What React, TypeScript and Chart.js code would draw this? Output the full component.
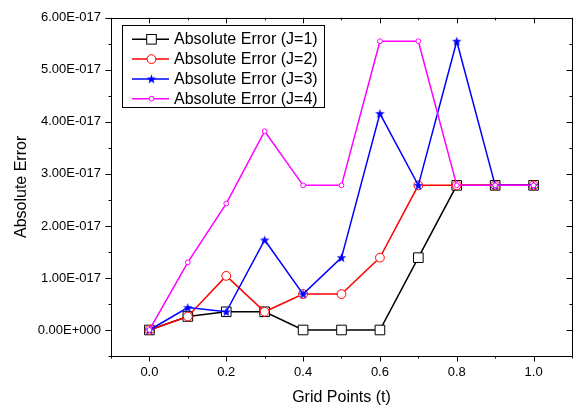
import React, { useEffect, useRef } from "react";
import { Chart, registerables } from "chart.js";
Chart.register(...registerables);

const gridPoints = [0, 0.1, 0.2, 0.3, 0.4, 0.5, 0.6, 0.7, 0.8, 0.9, 1.0];
const errorJ1 = [0, 0.26e-17, 0.35e-17, 0.35e-17, 0, 0, 0, 1.39e-17, 2.78e-17, 2.78e-17, 2.78e-17];
const errorJ2 = [0, 0.26e-17, 1.04e-17, 0.35e-17, 0.69e-17, 0.69e-17, 1.39e-17, 2.78e-17, 2.78e-17, 2.78e-17, 2.78e-17];
const errorJ3 = [0, 0.43e-17, 0.35e-17, 1.73e-17, 0.69e-17, 1.39e-17, 4.16e-17, 2.78e-17, 5.55e-17, 2.78e-17, 2.78e-17];
const errorJ4 = [0, 1.30e-17, 2.43e-17, 3.82e-17, 2.78e-17, 2.78e-17, 5.55e-17, 5.55e-17, 2.78e-17, 2.78e-17, 2.78e-17];
const seriesLabels = ["Absolute Error (J=1)", "Absolute Error (J=2)", "Absolute Error (J=3)", "Absolute Error (J=4)"];

const xTickValues = [0, 0.2, 0.4, 0.6, 0.8, 1.0];
const xTickLabels = ["0.0", "0.2", "0.4", "0.6", "0.8", "1.0"];
const xMinorValues = [-0.1, 0.1, 0.3, 0.5, 0.7, 0.9, 1.1];
const yTickValues = [0, 1e-17, 2e-17, 3e-17, 4e-17, 5e-17, 6e-17];
const yTickLabels = ["0.00E+000", "1.00E-017", "2.00E-017", "3.00E-017", "4.00E-017", "5.00E-017", "6.00E-017"];
const yMinorValues = [-0.5e-17, 0.5e-17, 1.5e-17, 2.5e-17, 3.5e-17, 4.5e-17, 5.5e-17];

const FONT = "'Liberation Sans', Arial, sans-serif";

function makeStar(color: string) {
  const c = document.createElement("canvas");
  const s = 11;
  c.width = s;
  c.height = s;
  const ctx = c.getContext("2d")!;
  const cx = s / 2, cy = s / 2 + 0.4;
  const R = 5.0, r = 2.1;
  ctx.beginPath();
  for (let i = 0; i < 10; i++) {
    const ang = -Math.PI / 2 + (i * Math.PI) / 5;
    const rad = i % 2 === 0 ? R : r;
    const px = cx + rad * Math.cos(ang);
    const py = cy + rad * Math.sin(ang);
    if (i === 0) ctx.moveTo(px, py);
    else ctx.lineTo(px, py);
  }
  ctx.closePath();
  ctx.fillStyle = color;
  ctx.fill();
  return c;
}

export default function App() {
  const ref = useRef<HTMLCanvasElement>(null);
  useEffect(() => {
    const star = makeStar("#0000FF");
    const toPts = (arr: number[]) => gridPoints.map((x, i) => ({ x, y: arr[i] }));

    const styles = [
      { color: "#000000", style: "rect", radius: 6.8, fill: "#FFFFFF", bw: 1 },
      { color: "#FF0000", style: "circle", radius: 4.4, fill: "#FFFFFF", bw: 1 },
      { color: "#0000FF", style: star as any, radius: 5, fill: "#0000FF", bw: 1 },
      { color: "#FF00FF", style: "circle", radius: 2.4, fill: "#FFFFFF", bw: 1 },
    ];
    const series = [errorJ1, errorJ2, errorJ3, errorJ4];

    const framePlugin = {
      id: "frameTicks",
      afterDraw(chart: any) {
        const { ctx, chartArea } = chart;
        const { left, right, top, bottom } = chartArea;
        const xs = chart.scales.x;
        const ys = chart.scales.y;
        ctx.save();
        ctx.strokeStyle = "#000";
        ctx.lineWidth = 1;
        ctx.strokeRect(Math.round(left) + 0.5, Math.round(top) + 0.5, Math.round(right - left), Math.round(bottom - top));
        const major = 5.5, minor = 2.5;
        ctx.beginPath();
        const xTick = (v: number, len: number) => {
          const px = Math.round(xs.getPixelForValue(v)) + 0.5;
          ctx.moveTo(px, bottom);
          ctx.lineTo(px, bottom + len);
          ctx.moveTo(px, top);
          ctx.lineTo(px, top + len);
        };
        const yTick = (v: number, len: number) => {
          const py = Math.round(ys.getPixelForValue(v)) + 0.5;
          ctx.moveTo(left, py);
          ctx.lineTo(left - len, py);
          ctx.moveTo(right, py);
          ctx.lineTo(right - len, py);
        };
        xTickValues.forEach((v) => xTick(v, major));
        xMinorValues.forEach((v) => xTick(v, minor));
        yTickValues.forEach((v) => yTick(v, major));
        yMinorValues.forEach((v) => yTick(v, minor));
        ctx.stroke();

        // legend
        const bx = 122, by = 25, bw = 202, bh = 82;
        ctx.fillStyle = "#FFFFFF";
        ctx.fillRect(bx, by, bw, bh);
        ctx.strokeStyle = "#000";
        ctx.lineWidth = 1;
        ctx.strokeRect(bx + 0.5, by + 0.5, bw, bh);
        ctx.font = `16px ${FONT}`;
        ctx.textBaseline = "middle";
        ctx.textAlign = "left";
        chart.data.datasets.forEach((ds: any, i: number) => {
          const y = 39.3 + i * 19.8;
          const st = styles[i];
          ctx.strokeStyle = st.color;
          ctx.lineWidth = 1.5;
          ctx.beginPath();
          ctx.moveTo(132, y);
          ctx.lineTo(169, y);
          ctx.stroke();
          const mx = 151.5;
          ctx.lineWidth = 1;
          if (st.style === "rect") {
            const h = st.radius * Math.SQRT1_2;
            ctx.fillStyle = st.fill;
            ctx.fillRect(mx - h, y - h, 2 * h, 2 * h);
            ctx.strokeStyle = st.color;
            ctx.strokeRect(mx - h, y - h, 2 * h, 2 * h);
          } else if (st.style === "circle") {
            ctx.beginPath();
            ctx.arc(mx, y, st.radius, 0, Math.PI * 2);
            ctx.fillStyle = st.fill;
            ctx.fill();
            ctx.strokeStyle = st.color;
            ctx.stroke();
          } else {
            ctx.drawImage(star, mx - star.width / 2, y - star.height / 2);
          }
          ctx.fillStyle = "#000";
          ctx.fillText(ds.label, 174, y + 0.5);
        });
        ctx.restore();
      },
    };

    const datasets = series.map((arr, i) => ({
      label: seriesLabels[i],
      data: toPts(arr),
      borderColor: styles[i].color,
      backgroundColor: styles[i].fill,
      pointStyle: styles[i].style,
      pointRadius: styles[i].radius,
      pointBorderColor: styles[i].color,
      pointBackgroundColor: styles[i].fill,
      pointBorderWidth: styles[i].bw,
      borderWidth: 1.5,
      tension: 0,
      fill: false,
      order: 4 - i,
      clip: false as any,
    }));

    const chart = new Chart(ref.current!, {
      type: "line",
      data: { datasets },
      options: {
        animation: false,
        responsive: false,
        events: [],
        layout: { padding: { top: 15, right: 8, left: 0, bottom: 0 } },
        plugins: { legend: { display: false }, tooltip: { enabled: false } },
        scales: {
          x: {
            type: "linear",
            min: -0.1,
            max: 1.1,
            grid: { display: false, drawTicks: false },
            border: { display: false },
            afterBuildTicks: (s: any) => {
              s.ticks = xTickValues.map((value) => ({ value }));
            },
            afterFit: (s: any) => {
              s.height = 56;
            },
            ticks: {
              padding: 9,
              color: "#000",
              font: { family: FONT, size: 13 },
              maxRotation: 0,
              autoSkip: false,
              callback: (_v: any, i: number) => xTickLabels[i],
            },
            title: {
              display: true,
              text: "Grid Points (t)",
              color: "#000",
              font: { family: FONT, size: 16 },
              padding: { top: 0, bottom: 4.4 },
            },
          },
          y: {
            type: "linear",
            min: -0.5e-17,
            max: 6e-17,
            grid: { display: false, drawTicks: false },
            border: { display: false },
            afterBuildTicks: (s: any) => {
              s.ticks = yTickValues.map((value) => ({ value }));
            },
            afterFit: (s: any) => {
              s.width = 111;
            },
            ticks: {
              padding: 10,
              color: "#000",
              font: { family: FONT, size: 13 },
              autoSkip: false,
              callback: (_v: any, i: number) => yTickLabels[i],
            },
            title: {
              display: true,
              text: "Absolute Error",
              color: "#000",
              font: { family: FONT, size: 16 },
              padding: { top: 12, bottom: 0 },
            },
          },
        },
      },
      plugins: [framePlugin],
    } as any);
    return () => chart.destroy();
  }, []);

  return (
    <div style={{ position: "absolute", left: 0, top: 0, width: 580, height: 412, background: "#fff" }}>
      <canvas ref={ref} width={580} height={412} style={{ display: "block" }} />
    </div>
  );
}
